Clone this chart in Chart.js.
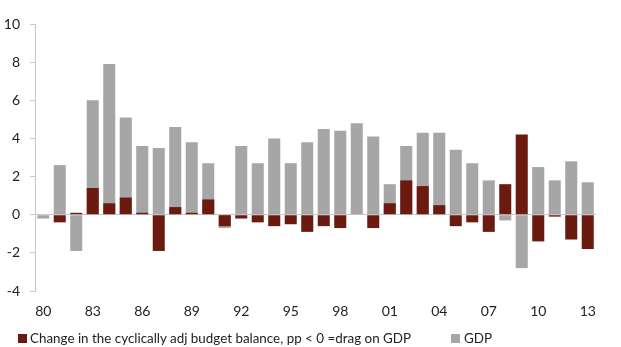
<!DOCTYPE html>
<html>
<head>
<meta charset="utf-8">
<script src="https://cdn.jsdelivr.net/npm/chart.js@4"></script>
<style>
    body { margin: 0; background: #fff; }
    #wrap { position: relative; width: 621px; height: 347px; font-family: Lato, sans-serif; }
    .key { position: absolute; top: 329px; font-size: 13.4px; color: #222; white-space: nowrap; line-height: 18px; }
    .box { position: absolute; top: 334px; width: 9px; height: 9px; }
</style>
</head>
<body>
<div id="wrap">
    <canvas id="chart"></canvas>
    <div class="box" style="left:18px; background:#6b1a0f"></div>
    <div class="key" style="left:30px">Change in the cyclically adj budget balance, pp &lt; 0 =drag on GDP</div>
    <div class="box" style="left:451px; background:#a6a6a6"></div>
    <div class="key" style="left:464px">GDP</div>
</div>
<script>
// years 1980-2013, shown as two digits
const years = ['80','81','82','83','84','85','86','87','88','89',
               '90','91','92','93','94','95','96','97','98','99',
               '00','01','02','03','04','05','06','07','08','09',
               '10','11','12','13'];

// change in cyclically adjusted budget balance (pp)
const budgetChange = [0, -0.4, 0.1, 1.4, 0.6, 0.9, 0.1, -1.9, 0.4, 0.1,
                      0.8, -0.6, -0.2, -0.4, -0.6, -0.5, -0.9, -0.6, -0.7, 0,
                      -0.7, 0.6, 1.8, 1.5, 0.5, -0.6, -0.4, -0.9, 1.6, 4.2,
                      -1.4, -0.1, -1.3, -1.8];

// GDP growth (%)
const gdp = [-0.2, 2.6, -1.9, 6.0, 7.9, 5.1, 3.6, 3.5, 4.6, 3.8,
             2.7, -0.7, 3.6, 2.7, 4.0, 2.7, 3.8, 4.5, 4.4, 4.8,
             4.1, 1.6, 3.6, 4.3, 4.3, 3.4, 2.7, 1.8, -0.3, -2.8,
             2.5, 1.8, 2.8, 1.7];

const yTicks = [-4, -2, 0, 2, 4, 6, 8, 10];

window.onload = function() {
    const ctx = document.getElementById('chart').getContext('2d');
    const axisColor = '#c8c8c8';

    new Chart(ctx, {
        type: 'bar',
        data: {
            labels: years,
            datasets: [{
                label: 'Change in the cyclically adj budget balance, pp < 0 =drag on GDP',
                data: budgetChange,
                backgroundColor: '#6b1a0f',
                grouped: false,
                barPercentage: 0.73,
                categoryPercentage: 1
            }, {
                label: 'GDP',
                data: gdp,
                backgroundColor: '#a6a6a6',
                grouped: false,
                barPercentage: 0.73,
                categoryPercentage: 1
            }]
        },
        options: {
            responsive: true,
            maintainAspectRatio: false,
            animation: false,
            layout: { padding: { top: 24, right: 25, bottom: 26, left: 0 } },
            plugins: {
                legend: { display: false },
                tooltip: { enabled: false }
            },
            scales: {
                x: {
                    grid: { display: false, drawTicks: false },
                    border: { display: false },
                    ticks: {
                        autoSkip: false,
                        maxRotation: 0,
                        padding: 12,
                        color: '#222',
                        font: { family: 'Lato', size: 14 },
                        callback: (v, i) => i % 3 === 0 ? years[i] : ''
                    },
                    afterFit: s => { s.height = 30; }
                },
                y: {
                    min: yTicks[0],
                    max: yTicks[yTicks.length - 1],
                    ticks: {
                        stepSize: 2,
                        padding: 10,
                        color: '#222',
                        font: { family: 'Lato', size: 14 }
                    },
                    grid: {
                        color: c => c.tick && c.tick.value === 0 ? axisColor : 'rgba(0,0,0,0)',
                        tickColor: axisColor,
                        tickLength: 5,
                        drawTicks: true
                    },
                    border: { display: true, color: axisColor },
                    afterFit: s => { s.width = 35; }
                }
            }
        }
    });
};
</script>
</body>
</html>
